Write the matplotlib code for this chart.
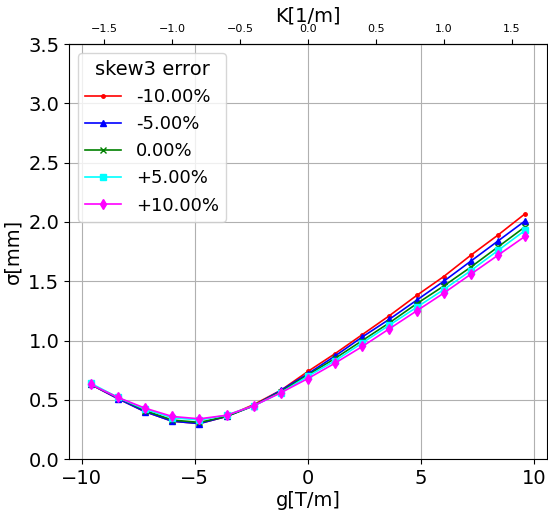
import numpy as np
import matplotlib
matplotlib.use("Agg")
import matplotlib.pyplot as plt

# gradient values [T/m]
g = [-9.6, -8.4, -7.2, -6.0, -4.8, -3.6, -2.4, -1.2, 0.0,
     1.2, 2.4, 3.6, 4.8, 6.0, 7.2, 8.4, 9.6]

# beam size sigma [mm] for each skew3 error
sigma_m10 = [0.63, 0.51, 0.40, 0.32, 0.30, 0.36, 0.46, 0.58, 0.74,
             0.89, 1.05, 1.21, 1.38, 1.54, 1.72, 1.89, 2.07]
sigma_m5 = [0.63, 0.51, 0.40, 0.32, 0.30, 0.36, 0.45, 0.58, 0.72,
            0.87, 1.03, 1.18, 1.34, 1.50, 1.67, 1.84, 2.01]
sigma_0 = [0.63, 0.52, 0.41, 0.33, 0.31, 0.36, 0.45, 0.57, 0.71,
           0.85, 1.00, 1.15, 1.31, 1.46, 1.62, 1.79, 1.96]
sigma_p5 = [0.64, 0.52, 0.42, 0.35, 0.33, 0.37, 0.45, 0.56, 0.70,
            0.83, 0.98, 1.13, 1.28, 1.43, 1.59, 1.76, 1.93]
sigma_p10 = [0.63, 0.52, 0.43, 0.36, 0.34, 0.37, 0.45, 0.56, 0.68,
             0.81, 0.95, 1.10, 1.25, 1.40, 1.56, 1.72, 1.88]

labels = ["-10.00%", "-5.00%", "0.00%", "+5.00%", "+10.00%"]
series = [sigma_m10, sigma_m5, sigma_0, sigma_p5, sigma_p10]
styles = [("red", "."), ("blue", "^"), ("green", "x"), ("cyan", "s"), ("magenta", "d")]

# top axis ticks, K = g / g_per_k
k_ticks = [-1.5, -1.0, -0.5, 0.0, 0.5, 1.0, 1.5]
g_per_k = 6.0

fig = plt.figure(figsize=(5.48, 5.13), dpi=100)
ax = fig.add_axes([0.126, 0.105, 0.872, 0.809])

for s, lab, (c, mk) in zip(series, labels, styles):
    ax.plot(g, s, color=c, marker=mk, label=lab, linewidth=1.2, markersize=5)

ax.set_ylim(0, 3.5)
ax.set_xlabel("g[T/m]", fontsize=14, labelpad=2)
ax.set_ylabel("σ[mm]", fontsize=14)
ax.tick_params(labelsize=14)
ax.grid(True, color="#b0b0b0", linewidth=0.8)
ax.legend(title="skew3 error", fontsize=13, title_fontsize=14, loc="upper left")

secax = ax.secondary_xaxis("top", functions=(lambda x: x / g_per_k, lambda k: k * g_per_k))
secax.set_xticks(k_ticks)
secax.set_xlabel("K[1/m]", fontsize=14, labelpad=2)
secax.tick_params(labelsize=8)

fig.savefig("out.png", dpi=100)
